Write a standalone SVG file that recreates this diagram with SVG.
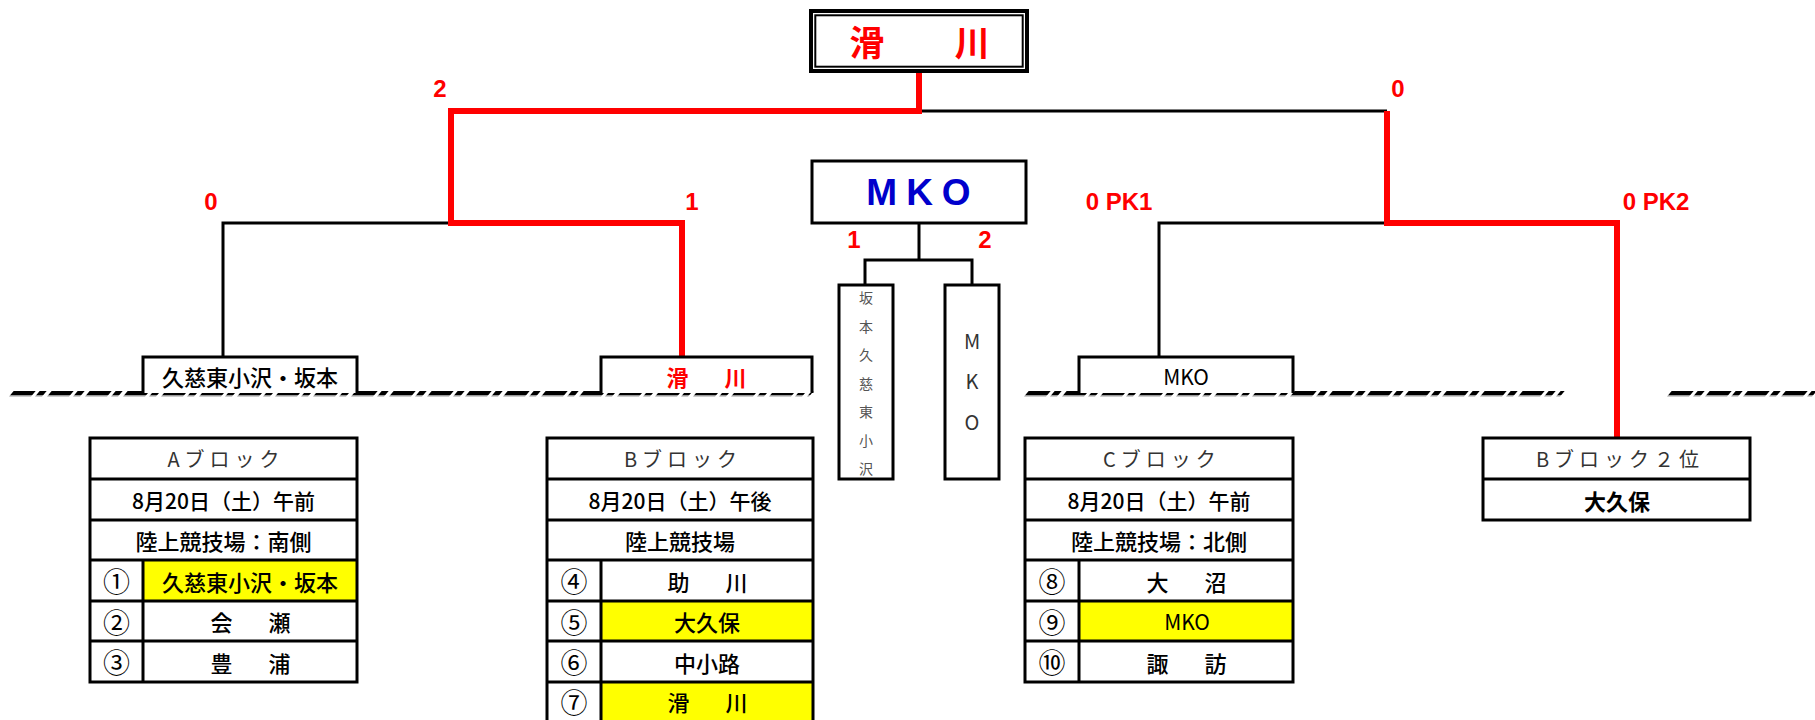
<svg xmlns="http://www.w3.org/2000/svg" width="1815" height="720" viewBox="0 0 1815 720">
<defs>
<style>
.box{fill:#fff;stroke:#000;stroke-width:3}
.open{fill:#fff;stroke:#000;stroke-width:3}
.grid{fill:none;stroke:#000;stroke-width:3}
.wire{fill:none;stroke:#000;stroke-width:3}
.win{fill:none;stroke:#f00;stroke-width:6;stroke-linejoin:miter}
.yel{fill:#ffff00;stroke:none}
.score{font-family:"Liberation Sans",Arial,sans-serif;font-weight:bold;font-size:24px;fill:#f00;text-anchor:middle;dominant-baseline:central}
.jp{font-family:"Noto Sans CJK JP","Noto Sans CJK SC",sans-serif;font-size:22px;font-weight:500;fill:#000;text-anchor:middle;dominant-baseline:central}
.cn{font-family:"Noto Sans CJK JP","Noto Sans CJK SC",sans-serif;font-size:27px;fill:#000;text-anchor:middle;dominant-baseline:central}
.hd{font-family:"Noto Sans CJK JP","Noto Sans CJK SC",sans-serif;font-size:20px;fill:#333;text-anchor:middle;dominant-baseline:central;letter-spacing:5px}
.dt{font-family:"Noto Sans CJK JP","Noto Sans CJK SC",sans-serif;font-size:21px;font-weight:500;fill:#000;text-anchor:middle;dominant-baseline:central}
.vt{font-family:"Noto Sans CJK JP","Noto Sans CJK SC",sans-serif;font-size:14px;fill:#555;text-anchor:middle;dominant-baseline:central}
.vm{font-family:"Noto Sans CJK JP","Noto Sans CJK SC",sans-serif;font-size:20px;fill:#333;text-anchor:middle;dominant-baseline:central}
.gnd{fill:none;stroke:#000;stroke-width:4;stroke-dasharray:22 4 7 5}
.gsh{fill:none;stroke:#999;stroke-width:1.5;stroke-dasharray:22 4 7 5}
</style>
</defs>
<rect width="1815" height="720" fill="#fff"/>

<!-- ground dashed lines -->
<g id="ground" transform="translate(0,393) skewX(-40)">
<line class="gsh" x1="12" y1="2.8" x2="812" y2="2.8"/>
<line class="gnd" x1="12" y1="0" x2="812" y2="0"/>
<line class="gsh" x1="1027" y1="2.8" x2="1563" y2="2.8"/>
<line class="gnd" x1="1027" y1="0" x2="1563" y2="0"/>
<line class="gsh" x1="1670" y1="2.8" x2="1815" y2="2.8"/>
<line class="gnd" x1="1670" y1="0" x2="1815" y2="0"/>
</g>

<!-- connectors -->
<g id="connectors">
<path class="wire" d="M223,357 V223 H451"/>
<path class="wire" d="M919,111 H1387"/>
<path class="wire" d="M1159,357 V223 H1387"/>
<path class="wire" d="M919,223 V260 M865,285 V260 H972 V285"/>
<path class="win" d="M919,73 V111 H451 V223 H682 V357"/>
<path class="win" d="M1387,111 V223 H1617 V438"/>
</g>

<!-- scores -->
<g id="scores">
<text class="score" x="440" y="88">2</text>
<text class="score" x="1398" y="88">0</text>
<text class="score" x="211" y="201">0</text>
<text class="score" x="692" y="201">1</text>
<text class="score" x="1119" y="201">0 PK1</text>
<text class="score" x="1656" y="201">0 PK2</text>
<text class="score" x="854" y="239">1</text>
<text class="score" x="985" y="239">2</text>
</g>

<!-- champion -->
<g id="champion">
<rect x="811" y="11" width="216" height="60" fill="#fff" stroke="#000" stroke-width="4"/>
<rect x="815.3" y="15.3" width="207.4" height="51.4" fill="none" stroke="#000" stroke-width="2"/>
<text x="919.5" y="40" style="font-family:'Noto Sans CJK JP','Noto Sans CJK SC',sans-serif;font-size:35px;font-weight:bold;fill:#f00;text-anchor:middle;dominant-baseline:central">滑　　川</text>
</g>

<!-- third place final -->
<g id="mko-final">
<rect class="box" x="812" y="161" width="214" height="62"/>
<text x="923" y="192" style="font-family:'Liberation Sans',Arial,sans-serif;font-size:37px;font-weight:bold;fill:#0000cc;text-anchor:middle;dominant-baseline:central;letter-spacing:9px">MKO</text>
</g>

<g id="v-sakamoto">
<rect class="box" x="839" y="285" width="54" height="194"/>
<text class="vt" x="866" y="297">坂</text>
<text class="vt" x="866" y="325.5">本</text>
<text class="vt" x="866" y="354">久</text>
<text class="vt" x="866" y="382.5">慈</text>
<text class="vt" x="866" y="411">東</text>
<text class="vt" x="866" y="439.5">小</text>
<text class="vt" x="866" y="468">沢</text>
</g>

<g id="v-mko">
<rect class="box" x="945" y="285" width="54" height="194"/>
<text class="vm" x="972" y="340">M</text>
<text class="vm" x="972" y="380">K</text>
<text class="vm" x="972" y="421">O</text>
</g>

<!-- block winners -->
<g id="win-a">
<path class="open" d="M143,393 V357 H357 V393"/>
<text class="jp" x="250" y="376">久慈東小沢・坂本</text>
</g>
<g id="win-b">
<path class="open" d="M601,393 V357 H812 V393"/>
<text class="jp" x="710" y="376" style="fill:#f00;font-weight:bold;letter-spacing:7px">滑　川</text>
</g>
<g id="win-c">
<path class="open" d="M1079,393 V357 H1293 V393"/>
<text class="jp" x="1186" y="376" style="font-size:21px;font-weight:normal">MKO</text>
</g>

<!-- block A -->
<g id="block-a">
<rect class="yel" x="143" y="560" width="214" height="41"/>
<rect class="grid" x="90" y="438" width="267" height="244"/>
<path class="grid" d="M90,479 H357 M90,520 H357 M90,560 H357 M90,601 H357 M90,641 H357 M143,560 V682"/>
<text class="hd" x="226" y="458.5">Aブロック</text>
<text class="dt" x="223.5" y="499.5">8月20日（土）午前</text>
<text class="jp" x="223.5" y="540">陸上競技場：南側</text>
<text class="cn" x="116.5" y="580.5">①</text>
<text class="cn" x="116.5" y="621">②</text>
<text class="cn" x="116.5" y="661.5">③</text>
<text class="jp" x="250" y="580.5">久慈東小沢・坂本</text>
<text class="jp" x="254" y="621" style="letter-spacing:7px">会　瀬</text>
<text class="jp" x="254" y="661.5" style="letter-spacing:7px">豊　浦</text>
</g>

<!-- block B -->
<g id="block-b">
<rect class="yel" x="601" y="601" width="212" height="40"/>
<rect class="yel" x="601" y="682" width="212" height="40"/>
<rect class="grid" x="547" y="438" width="266" height="284"/>
<path class="grid" d="M547,479 H813 M547,520 H813 M547,560 H813 M547,601 H813 M547,641 H813 M547,682 H813 M601,560 V722"/>
<text class="hd" x="683" y="458.5">Bブロック</text>
<text class="dt" x="680" y="499.5">8月20日（土）午後</text>
<text class="jp" x="680" y="540">陸上競技場</text>
<text class="cn" x="574" y="580.5">④</text>
<text class="cn" x="574" y="621">⑤</text>
<text class="cn" x="574" y="661.5">⑥</text>
<text class="cn" x="574" y="701">⑦</text>
<text class="jp" x="711" y="580.5" style="letter-spacing:7px">助　川</text>
<text class="jp" x="707" y="621">大久保</text>
<text class="jp" x="707" y="661.5">中小路</text>
<text class="jp" x="711" y="701" style="letter-spacing:7px">滑　川</text>
</g>

<!-- block C -->
<g id="block-c">
<rect class="yel" x="1079" y="601" width="214" height="40"/>
<rect class="grid" x="1025" y="438" width="268" height="244"/>
<path class="grid" d="M1025,479 H1293 M1025,520 H1293 M1025,560 H1293 M1025,601 H1293 M1025,641 H1293 M1079,560 V682"/>
<text class="hd" x="1162" y="458.5">Cブロック</text>
<text class="dt" x="1159" y="499.5">8月20日（土）午前</text>
<text class="jp" x="1159" y="540">陸上競技場：北側</text>
<text class="cn" x="1052" y="580.5">⑧</text>
<text class="cn" x="1052" y="621">⑨</text>
<text class="cn" x="1052" y="661.5">⑩</text>
<text class="jp" x="1190" y="580.5" style="letter-spacing:7px">大　沼</text>
<text class="jp" x="1187" y="621" style="font-size:21px;font-weight:normal">MKO</text>
<text class="jp" x="1190" y="661.5" style="letter-spacing:7px">諏　訪</text>
</g>

<!-- B block 2nd -->
<g id="block-b2">
<rect class="grid" x="1483" y="438" width="267" height="82"/>
<path class="grid" d="M1483,479 H1750"/>
<text class="hd" x="1620" y="458.5">Bブロック２位</text>
<text class="jp" x="1617" y="499.5" style="font-weight:bold">大久保</text>
</g>
</svg>
